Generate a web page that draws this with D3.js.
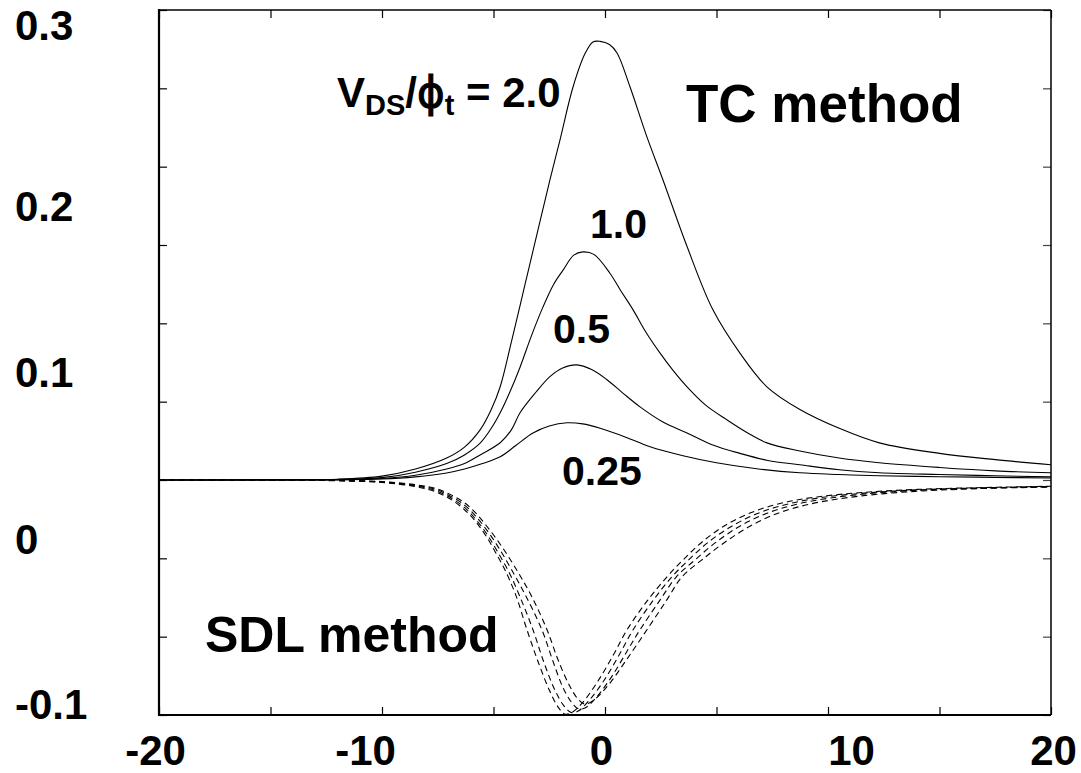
<!DOCTYPE html>
<html>
<head>
<meta charset="utf-8">
<script src="https://cdn.jsdelivr.net/npm/d3@7"></script>
<style>
  html, body { margin: 0; padding: 0; background: #fff; }
  svg { display: block; }
  text { font-family: "Liberation Sans", Arial, sans-serif; font-weight: bold; fill: #000; }
</style>
</head>
<body>
<svg id="chart" width="1081" height="773"></svg>
<script>
// ---------------- DATA ----------------
const xTickValues = [-20, -15, -10, -5, 0, 5, 10, 15, 20];
const xTickLabels = ["-20", "", "-10", "", "0", "", "10", "", "20"];
const yTickValues = [-0.1, -0.05, 0, 0.05, 0.1, 0.15, 0.2, 0.25, 0.3, 0.35];
const yTickLabels = ["-0.1", "", "0", "", "0.1", "", "0.2", "", "0.3", ""];

// TC method (solid), V_DS/phi_t = 2.0, 1.0, 0.5, 0.25
const tc20 = [[-20,0.05],[-14,0.0502],[-12,0.0505],[-10,0.0525],[-8.5,0.057],[-7.1,0.064],[-6.3,0.071],[-5.6,0.082],[-5.1,0.095],[-4.7,0.1095],[-4.2,0.138],[-3.6,0.174],[-3.0,0.21],[-2.47,0.2415],[-2.02,0.267],[-1.43,0.301],[-0.9,0.322],[-0.54,0.3296],[-0.22,0.330],[0.2,0.328],[0.54,0.3226],[1.12,0.301],[1.88,0.269],[2.6,0.2415],[3.68,0.199],[4.84,0.1586],[6.05,0.131],[7.26,0.1095],[8.74,0.095],[10.5,0.083],[12.3,0.0737],[15,0.067],[17.5,0.063],[20,0.0597]];
const tc10 = [[-20,0.05],[-14,0.0501],[-12,0.0503],[-10,0.0515],[-8.5,0.055],[-7.1,0.0605],[-6.3,0.066],[-5.6,0.0735],[-5.1,0.083],[-4.7,0.0929],[-4.3,0.105],[-3.81,0.122],[-3.3,0.142],[-2.78,0.1605],[-2.3,0.175],[-1.88,0.184],[-1.4,0.1935],[-0.99,0.1956],[-0.5,0.194],[0.22,0.182],[0.7,0.171],[1.26,0.1586],[1.85,0.144],[2.47,0.131],[3.05,0.12],[3.68,0.1095],[4.5,0.098],[5.47,0.0884],[6.4,0.080],[7.26,0.0737],[8.74,0.0685],[10.5,0.064],[12.3,0.061],[15,0.058],[17.5,0.0558],[20,0.0546]];
const tc05 = [[-20,0.05],[-14,0.05],[-12,0.0502],[-10,0.051],[-8.5,0.053],[-7.1,0.057],[-6.3,0.0605],[-5.6,0.066],[-4.7,0.0738],[-4.2,0.082],[-3.81,0.0929],[-3.1,0.106],[-2.47,0.116],[-1.9,0.1215],[-1.26,0.1235],[-0.6,0.1205],[0.09,0.114],[0.8,0.1055],[1.57,0.0967],[2.6,0.087],[3.68,0.080],[4.8,0.0725],[6.05,0.067],[7.3,0.0625],[8.74,0.0597],[10.5,0.0565],[12.3,0.0546],[15,0.0535],[17.5,0.0527],[20,0.052]];
const tc025 = [[-20,0.05],[-14,0.05],[-12,0.0501],[-10,0.0506],[-8.5,0.052],[-7.1,0.0545],[-6.3,0.057],[-5.6,0.060],[-4.7,0.0648],[-4,0.072],[-3.23,0.080],[-2.5,0.0845],[-1.7,0.0865],[-1.0,0.0858],[-0.22,0.083],[0.9,0.0775],[2.02,0.0712],[3.5,0.0655],[5.0,0.061],[6.8,0.0572],[8.74,0.0546],[10.5,0.0535],[12.3,0.0527],[15,0.0521],[17.5,0.0517],[20,0.0513]];

// SDL method (dashed)
const sdl1 = [[-20,0.05],[-14,0.0499],[-12,0.0495],[-10,0.0484],[-8.5,0.0458],[-7.6,0.0425],[-6.9,0.0375],[-6.3,0.031],[-5.8,0.0235],[-5.3,0.0135],[-4.9,0.0035],[-4.5,-0.007],[-4.0,-0.0235],[-3.5,-0.0456],[-3.0,-0.066],[-2.5,-0.084],[-2.1,-0.095],[-1.8,-0.0995],[-1.5,-0.0985],[-1.0,-0.092],[-0.3,-0.078],[0.4,-0.061],[0.99,-0.0456],[1.9,-0.027],[2.78,-0.0118],[3.5,-0.001],[4.4,0.011],[5.5,0.022],[6.7,0.030],[8,0.0355],[9.5,0.0392],[11.5,0.042],[14,0.044],[17,0.0452],[20,0.046]];
const sdl2 = [[-20,0.05],[-14,0.0499],[-12,0.0496],[-10,0.0486],[-8.5,0.0462],[-7.6,0.0432],[-6.9,0.0385],[-6.3,0.0325],[-5.8,0.025],[-5.3,0.0155],[-4.85,0.005],[-4.3,-0.009],[-3.8,-0.025],[-3.23,-0.0456],[-2.75,-0.066],[-2.25,-0.084],[-1.85,-0.094],[-1.5,-0.0985],[-1.2,-0.0975],[-0.7,-0.0905],[0.0,-0.077],[0.7,-0.060],[1.26,-0.0456],[2.15,-0.027],[3.0,-0.0118],[3.75,-0.001],[4.65,0.0105],[5.8,0.0215],[7.0,0.0295],[8.3,0.035],[9.8,0.039],[11.8,0.0418],[14,0.0437],[17,0.045],[20,0.0459]];
const sdl3 = [[-20,0.05],[-14,0.0499],[-12,0.0497],[-10,0.0488],[-8.5,0.0466],[-7.6,0.0440],[-6.9,0.0395],[-6.3,0.034],[-5.8,0.027],[-5.3,0.018],[-4.8,0.0075],[-4.2,-0.007],[-3.55,-0.024],[-2.83,-0.0456],[-2.35,-0.065],[-1.9,-0.082],[-1.5,-0.092],[-1.2,-0.096],[-0.9,-0.0955],[-0.4,-0.089],[0.3,-0.0755],[1.0,-0.059],[1.57,-0.0456],[2.45,-0.027],[3.2,-0.0118],[4.0,-0.0015],[4.95,0.010],[6.1,0.021],[7.3,0.029],[8.6,0.0345],[10.1,0.0385],[12,0.0415],[14,0.0434],[17,0.0448],[20,0.0457]];
const sdl4 = [[-20,0.05],[-14,0.0499],[-12,0.0497],[-10,0.049],[-8.5,0.047],[-7.6,0.0447],[-6.9,0.0405],[-6.3,0.0355],[-5.8,0.029],[-5.3,0.0205],[-4.7,0.009],[-4.0,-0.0065],[-3.3,-0.024],[-2.6,-0.0456],[-2.1,-0.065],[-1.6,-0.081],[-1.2,-0.09],[-0.9,-0.093],[-0.5,-0.0905],[0.2,-0.080],[1.0,-0.064],[1.88,-0.0456],[2.75,-0.027],[3.45,-0.0118],[4.3,-0.0015],[5.3,0.0095],[6.5,0.0205],[7.7,0.0285],[9.0,0.034],[10.5,0.038],[12.3,0.041],[14.5,0.0432],[17,0.0446],[20,0.0455]];

const tcSeries = [tc20, tc10, tc05, tc025];
const sdlSeries = [sdl1, sdl2, sdl3, sdl4];

// ---------------- LAYOUT ----------------
const W = 1081, H = 773;
const plot = { left: 159, right: 1051, top: 10, bottom: 715 };
const tickLen = 8;
// label offsets as found in the reference figure
const xLabelDx = [-4, 0, -17, 0, -4, 0, 23, 0, 2];
const xLabelBaseline = 765;
const yLabelX = 15;
const yLabelDy = [3, 0, -5, 0, -15, 0, -25, 0, -49, 0];

const svg = d3.select("#chart");
svg.append("rect").attr("width", W).attr("height", H).attr("fill", "#fff");

const x = d3.scaleLinear().domain([-20, 20]).range([plot.left, plot.right]);
const y = d3.scaleLinear().domain([-0.1, 0.35]).range([plot.bottom, plot.top]);

// Bottom axis
const gB = svg.append("g").attr("transform", `translate(0,${plot.bottom})`)
  .call(d3.axisBottom(x).tickValues(xTickValues).tickSize(-tickLen).tickPadding(0)
    .tickFormat((d, i) => xTickLabels[i]));
gB.select(".domain").remove();
gB.selectAll(".tick line").attr("stroke", "#000").attr("stroke-width", 1.2);
gB.selectAll(".tick text")
  .attr("font-size", 42).attr("font-family", "Liberation Sans, Arial, sans-serif")
  .attr("font-weight", "bold").attr("fill", "#000")
  .attr("text-anchor", "middle")
  .attr("dy", null)
  .attr("y", xLabelBaseline - plot.bottom)
  .attr("dx", (d, i) => xLabelDx[i]);

// Top axis (ticks only)
const gT = svg.append("g").attr("transform", `translate(0,${plot.top})`)
  .call(d3.axisTop(x).tickValues(xTickValues).tickSize(-tickLen).tickFormat(""));
gT.select(".domain").remove();
gT.selectAll(".tick line").attr("stroke", "#000").attr("stroke-width", 1.2);

// Left axis
const gL = svg.append("g").attr("transform", `translate(${plot.left},0)`)
  .call(d3.axisLeft(y).tickValues(yTickValues).tickSize(-tickLen).tickPadding(0)
    .tickFormat((d, i) => yTickLabels[i]));
gL.select(".domain").remove();
gL.selectAll(".tick line").attr("stroke", "#000").attr("stroke-width", 1.2);
gL.selectAll(".tick text")
  .attr("font-size", 42).attr("font-family", "Liberation Sans, Arial, sans-serif")
  .attr("font-weight", "bold").attr("fill", "#000")
  .attr("text-anchor", "start")
  .attr("x", yLabelX - plot.left)
  .attr("dy", null)
  .attr("y", (d, i) => yLabelDy[i]);

// Right axis (ticks only)
const gR = svg.append("g").attr("transform", `translate(${plot.right},0)`)
  .call(d3.axisRight(y).tickValues(yTickValues).tickSize(-tickLen).tickFormat(""));
gR.select(".domain").remove();
gR.selectAll(".tick line").attr("stroke", "#444").attr("stroke-width", 1.2);

// Frame
const frame = svg.append("g").attr("stroke", "#000").attr("fill", "none");
frame.append("line").attr("x1", plot.left).attr("x2", plot.right).attr("y1", plot.top).attr("y2", plot.top).attr("stroke-width", 1.5);
frame.append("line").attr("x1", plot.right).attr("x2", plot.right).attr("y1", plot.top).attr("y2", plot.bottom).attr("stroke-width", 1.5);
frame.append("line").attr("x1", plot.left).attr("x2", plot.left).attr("y1", plot.top - 1).attr("y2", plot.bottom + 1).attr("stroke-width", 2.2);
frame.append("line").attr("x1", plot.left).attr("x2", plot.right).attr("y1", plot.bottom).attr("y2", plot.bottom).attr("stroke-width", 2.2);

// Curves
const line = d3.line().x(d => x(d[0])).y(d => y(d[1])).curve(d3.curveCatmullRom.alpha(0.5));

svg.append("g").selectAll("path.tc").data(tcSeries).join("path")
  .attr("class", "tc")
  .attr("d", line)
  .attr("fill", "none").attr("stroke", "#000").attr("stroke-width", 1.1);

svg.append("g").selectAll("path.sdl").data(sdlSeries).join("path")
  .attr("class", "sdl")
  .attr("d", line)
  .attr("fill", "none").attr("stroke", "#000").attr("stroke-width", 1.1)
  .attr("stroke-dasharray", "6,4");

// Annotations
const ann = svg.append("g");
ann.append("text").attr("x", 686).attr("y", 122).attr("font-size", 53).text("TC method");
ann.append("text").attr("x", 205).attr("y", 652).attr("font-size", 50).text("SDL method");
ann.append("text").attr("x", 590).attr("y", 238).attr("font-size", 41).text("1.0");
ann.append("text").attr("x", 553).attr("y", 343).attr("font-size", 41).text("0.5");
ann.append("text").attr("x", 562).attr("y", 485).attr("font-size", 41).text("0.25");

const vt = ann.append("text").attr("x", 337).attr("y", 107).attr("font-size", 42);
vt.append("tspan").text("V");
vt.append("tspan").attr("font-size", 29).attr("dy", 8).text("DS");
vt.append("tspan").attr("dy", -8).text("/");
vt.append("tspan").attr("font-family", "DejaVu Sans, sans-serif").attr("font-weight", "normal").attr("stroke", "#000").attr("stroke-width", 1.2).text("\u03D5");
vt.append("tspan").attr("font-size", 29).attr("dy", 8).text("t");
vt.append("tspan").attr("dy", -8).text(" = 2.0");
</script>
</body>
</html>
